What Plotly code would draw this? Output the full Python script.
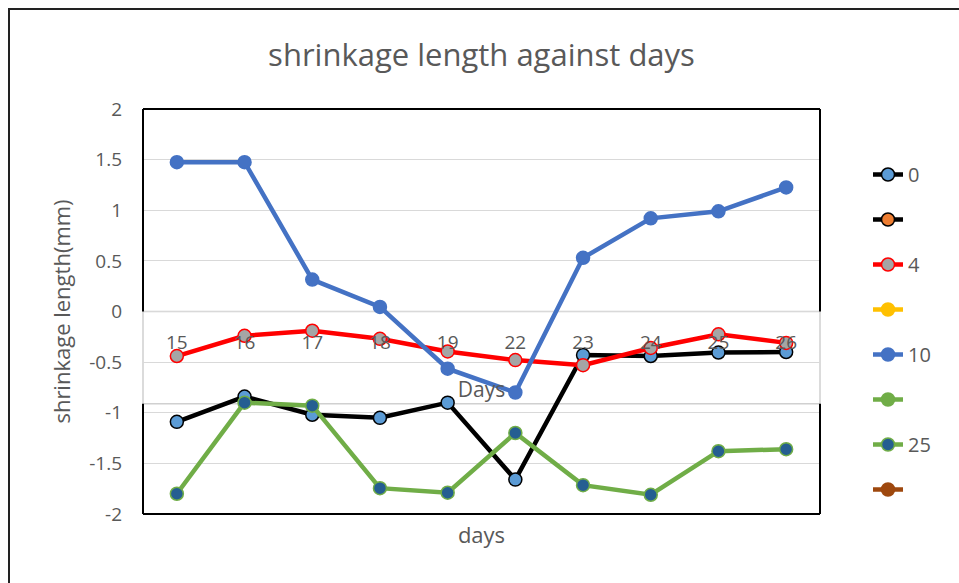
import plotly.graph_objects as go

days = ["15", "16", "17", "18", "19", "22", "23", "24", "25", "26"]
s0 = [-1.09, -0.84, -1.02, -1.05, -0.90, -1.66, -0.43, -0.44, -0.405, -0.40]
s4 = [-0.44, -0.24, -0.19, -0.27, -0.395, -0.48, -0.53, -0.36, -0.225, -0.31]
s10 = [1.475, 1.475, 0.315, 0.045, -0.565, -0.80, 0.53, 0.92, 0.99, 1.225]
s25 = [-1.80, -0.90, -0.93, -1.745, -1.79, -1.20, -1.715, -1.81, -1.38, -1.36]
legend_names = ["0", " ", "4", "  ", "10", "   ", "25", "    "]
y_tickvals = [-2, -1.5, -1, -0.5, 0, 0.5, 1, 1.5, 2]
y_ticktext = ["-2", "-1.5", "-1", "-0.5", "0", "0.5", "1", "1.5", "2"]

W, H = 959, 583
L, R, T, B = 143, 820, 109, 514
pw, ph = R - L, B - T
FONT = "Open Sans"
GREY = "#595959"

def px(x):
    return (x - L) / pw

def py(y):
    return (B - y) / ph

fig = go.Figure()

styles = [
    (s0, "#000000", "#5B9BD5", "#000000"),
    (None, "#000000", "#ED7D31", "#000000"),
    (s4, "#FF0000", "#A5A5A5", "#FF0000"),
    (None, "#FFC000", "#FFC000", "#FFC000"),
    (s10, "#4472C4", "#4472C4", "#4472C4"),
    (None, "#70AD47", "#70AD47", "#70AD47"),
    (s25, "#70AD47", "#255E91", "#70AD47"),
    (None, "#9E480E", "#9E480E", "#9E480E"),
]
for i, (vals, lc, mc, ml) in enumerate(styles):
    fig.add_trace(go.Scatter(
        x=days,
        y=vals if vals is not None else [None] * len(days),
        mode="lines+markers",
        name=legend_names[i],
        legendgroup=str(i),
        line=dict(color=lc, width=4.5),
        marker=dict(size=13, color=mc, line=dict(color=ml, width=1.5)),
    ))

# secondary category axis crossing at zero
fig.add_trace(go.Scatter(x=days, y=[None] * len(days), xaxis="x2",
                         showlegend=False, hoverinfo="skip"))

xr = [-0.5, len(days) - 0.5]
fig.update_layout(
    width=W, height=H,
    margin=dict(l=L, r=W - R, t=T, b=H - B),
    paper_bgcolor="white", plot_bgcolor="white",
    font=dict(family=FONT, color=GREY, size=19),
    title=dict(text="shrinkage length against days", x=0.5, xref="paper",
               y=1 - 55 / H, yanchor="middle", font=dict(size=31, color=GREY)),
    xaxis=dict(type="category", categoryorder="array", categoryarray=days, range=xr,
               showticklabels=False, showgrid=False, showline=False, zeroline=False,
               title=dict(text="days", standoff=13, font=dict(size=22, color=GREY))),
    xaxis2=dict(type="category", categoryorder="array", categoryarray=days, range=xr,
                overlaying="x", anchor="free", position=py(311), side="bottom",
                showgrid=False, showline=False, zeroline=False, ticks="",
                ticklabelstandoff=18,
                tickfont=dict(size=19, color=GREY),
                title=dict(text="Days", standoff=28, font=dict(size=21, color=GREY))),
    yaxis=dict(range=[-2, 2], tickmode="array", tickvals=y_tickvals, ticktext=y_ticktext,
               showgrid=True, gridcolor="#D9D9D9", gridwidth=1,
               zeroline=False, showline=False, ticks="", ticklabelstandoff=20,
               tickfont=dict(size=19, color=GREY),
               title=dict(text="shrinkage length(mm)", standoff=12, font=dict(size=22, color=GREY))),
    legend=dict(x=px(868), y=py(155), xanchor="left", yanchor="top",
                font=dict(size=20, color=GREY), tracegroupgap=16,
                bgcolor="rgba(0,0,0,0)"),
    showlegend=True,
)

shapes = []
# white box behind the crossing category axis
shapes.append(dict(type="rect", xref="paper", yref="y", x0=0, x1=1, y0=-0.91, y1=0,
                   fillcolor="white", line=dict(color="#D0D0D0", width=1.5), layer="below"))
# plot area border (black), interrupted by the box
blk = dict(color="#000000", width=2)
shapes += [
    dict(type="line", xref="paper", yref="paper", x0=0, x1=1, y0=1, y1=1, line=blk),
    dict(type="line", xref="paper", yref="paper", x0=0, x1=1, y0=0, y1=0, line=blk),
    dict(type="line", xref="paper", yref="y", x0=0, x1=0, y0=0, y1=2, line=blk),
    dict(type="line", xref="paper", yref="y", x0=0, x1=0, y0=-2, y1=-0.91, line=blk),
    dict(type="line", xref="paper", yref="y", x0=1, x1=1, y0=0, y1=2, line=blk),
    dict(type="line", xref="paper", yref="y", x0=1, x1=1, y0=-2, y1=-0.91, line=blk),
]
# outer chart border
shapes.append(dict(type="rect", xref="paper", yref="paper",
                   x0=px(9), x1=px(W + 20), y0=py(H + 20), y1=py(9),
                   line=dict(color="#222222", width=2), fillcolor="rgba(0,0,0,0)"))
fig.update_layout(shapes=shapes)

fig.write_html("out.html", config={"displayModeBar": False},
               post_script="document.body.style.margin='0';document.body.style.overflow='hidden';")
